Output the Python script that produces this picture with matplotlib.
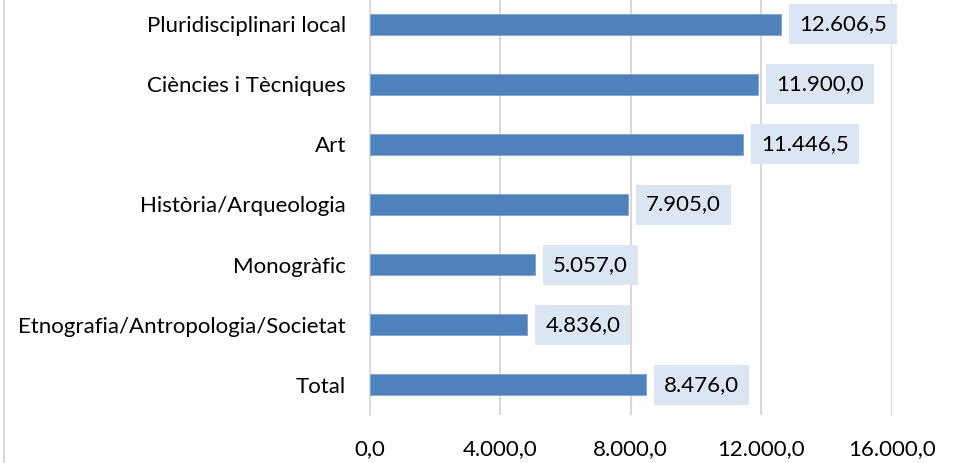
import matplotlib
matplotlib.use("Agg")
import matplotlib.pyplot as plt
from matplotlib.lines import Line2D

categories = ["Pluridisciplinari local", "Ciències i Tècniques", "Art",
              "Història/Arqueologia", "Monogràfic",
              "Etnografia/Antropologia/Societat", "Total"]
values = [12606.5, 11900.0, 11446.5, 7905.0, 5057.0, 4836.0, 8476.0]
xticks = [0, 4000, 8000, 12000, 16000]
xtick_labels = ["0,0", "4.000,0", "8.000,0", "12.000,0", "16.000,0"]


def fmt(v):
    s = f"{v:,.1f}"
    return s.replace(",", "X").replace(".", ",").replace("X", ".")


plt.rcParams['font.family'] = ['Lato', 'DejaVu Sans']

W, H = 960, 463
FS = 16
fig = plt.figure(figsize=(W / 100, H / 100), dpi=100)
ax = fig.add_axes([369.5 / W, (H - 415) / H, (892 - 369.5) / W, (415 + 6) / H])

ypos = list(range(len(categories)))
ax.barh(ypos, values, height=0.35, color="#4F81BD", edgecolor="#7FA3D3", linewidth=0.6, zorder=3)
ax.set_ylim(len(categories) - 0.5, -0.5)
ax.set_xlim(0, 16000)
ax.set_yticks(ypos)
ax.set_yticklabels(categories, fontsize=FS, color="#000000")
ax.set_xticks(xticks)
ax.set_xticklabels(xtick_labels, fontsize=FS, color="#000000")
ax.tick_params(axis="y", length=0, pad=17)
ax.tick_params(axis="x", length=0, pad=17)
ax.xaxis.grid(True, color="#D9D9D9", linewidth=1.5, zorder=0)
for s in ["top", "right", "bottom"]:
    ax.spines[s].set_visible(False)
ax.spines["left"].set_color("#D9D9D9")
ax.spines["left"].set_linewidth(1.2)

for y, v in zip(ypos, values):
    ax.annotate(fmt(v), xy=(v, y), xytext=(13, 0), textcoords="offset points",
                va="center", ha="left", fontsize=FS, color="#000000",
                bbox=dict(boxstyle="square,pad=0.45", facecolor="#DCE6F2", edgecolor="none"),
                zorder=4)

fig.add_artist(Line2D([3.5 / W, 3.5 / W], [0, 1], transform=fig.transFigure,
                      color="#D9D9D9", linewidth=1.5))

fig.savefig("out.png", dpi=100)
